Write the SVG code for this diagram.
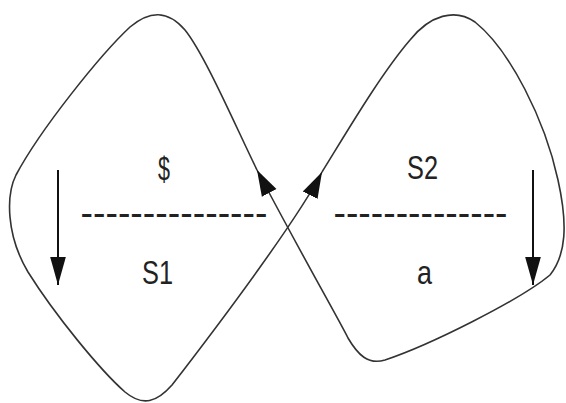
<svg xmlns="http://www.w3.org/2000/svg" width="566" height="403" viewBox="0 0 566 403">
<style>
.loop{fill:none;stroke:#333;stroke-width:1.6;stroke-linejoin:round}
.varr{fill:none;stroke:#111;stroke-width:2}
.lbl{font-family:"Liberation Sans",Arial,sans-serif;font-size:34px;fill:#222}
.dash{font-family:"Liberation Sans",Arial,sans-serif;font-size:37px;fill:#222}
</style>
<defs>
<marker id="ah" markerUnits="userSpaceOnUse" markerWidth="26" markerHeight="18" refX="22" refY="7" orient="auto" viewBox="0 0 22 14">
<path d="M0,0 L22,7 L0,14 z" fill="#111"/>
</marker>
<marker id="vh" markerUnits="userSpaceOnUse" markerWidth="28" markerHeight="18" refX="25" refY="7" orient="auto" viewBox="0 0 25 14">
<path d="M0,0 L25,7 L0,14 z" fill="#111"/>
</marker>
</defs>
<rect width="566" height="403" fill="#fff"/>
<g id="connectors">
<path id="left-loop" class="loop" marker-end="url(#ah)" d="M257,170 C235,125 205,55 185,30 C168,10 150,10 130,27 C100,55 40,130 16,175 C6,195 6,235 28,272 C55,315 100,370 125,392 C143,407 157,402 172,385 C230,310 300,215 322,172"/>
<path id="right-loop" class="loop" marker-end="url(#ah)" d="M322,172 C345,135 380,75 410,40 C430,15 455,8 475,22 C510,50 545,120 558,180 C568,225 566,255 550,275 C520,300 430,345 385,360 C368,365 358,355 348,338 C338,318 310,270 257,170"/>
<line id="left-down" class="varr" x1="58" y1="170" x2="58" y2="285" marker-end="url(#vh)"/>
<line id="right-down" class="varr" x1="533" y1="170" x2="533" y2="285" marker-end="url(#vh)"/>
</g>
<g id="state-left">
<text class="lbl" x="158" y="180" textLength="12" lengthAdjust="spacingAndGlyphs">$</text>
<text class="dash" x="80.5" y="225" textLength="187" lengthAdjust="spacingAndGlyphs">---------------</text>
<text class="lbl" x="142" y="284" textLength="31" lengthAdjust="spacingAndGlyphs">S1</text>
</g>
<g id="state-right">
<text class="lbl" x="407" y="179" textLength="31" lengthAdjust="spacingAndGlyphs">S2</text>
<text class="dash" x="333.5" y="225" textLength="174" lengthAdjust="spacingAndGlyphs">--------------</text>
<text class="lbl" x="417" y="284" textLength="15" lengthAdjust="spacingAndGlyphs">a</text>
</g>
</svg>
